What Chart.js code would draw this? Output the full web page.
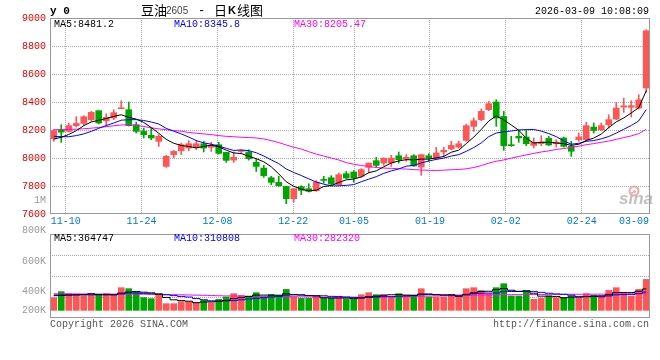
<!DOCTYPE html>
<html>
<head>
<meta charset="utf-8">
<title>豆油2605 - 日K线图</title>
<script src="https://cdn.jsdelivr.net/npm/chart.js@4.4.1/dist/chart.umd.min.js"></script>
<style>
    html, body { margin: 0; padding: 0; background: #fff; }
    #wrap { position: relative; width: 660px; height: 360px; }
    #wrap canvas { position: absolute; left: 0; top: 0; }
</style>
</head>
<body>
<div id="wrap">
    <canvas id="kline" width="660" height="360"></canvas>
    <canvas id="vol" width="660" height="360"></canvas>
</div>
<script>
"use strict";

// ===== DATA =====
const dates = ['11-06','11-07','11-10','11-11','11-12','11-13','11-14','11-17','11-18','11-19',
    '11-20','11-21','11-24','11-25','11-26','11-27','11-28','12-01','12-02','12-03',
    '12-04','12-05','12-08','12-09','12-10','12-11','12-12','12-15','12-16','12-17',
    '12-18','12-19','12-22','12-23','12-24','12-25','12-26','12-29','12-30','12-31',
    '01-05','01-06','01-07','01-08','01-09','01-12','01-13','01-14','01-15','01-16',
    '01-19','01-20','01-21','01-22','01-23','01-26','01-27','01-28','01-29','01-30',
    '02-02','02-03','02-04','02-05','02-06','02-09','02-10','02-11','02-12','02-13',
    '02-24','02-25','02-26','02-27','03-02','03-03','03-04','03-05','03-06','03-09'];

const openP = [8138, 8202, 8190, 8231, 8247, 8274, 8338, 8266, 8286, 8352,
    8345, 8238, 8190, 8162, 8119, 7940, 8024, 8052, 8071, 8078,
    8102, 8076, 8095, 8040, 7985, 8047, 8043, 7969, 7928, 7859,
    7826, 7797, 7709, 7795, 7781, 7766, 7845, 7859, 7809, 7888,
    7900, 7869, 7933, 7981, 7964, 7964, 8016, 7993, 8016, 7935,
    8016, 7995, 8043, 8064, 8078, 8126, 8226, 8274, 8345, 8400,
    8297, 8095, 8155, 8150, 8090, 8102, 8140, 8102, 8143, 8083,
    8131, 8131, 8221, 8202, 8238, 8278, 8364, 8362, 8357, 8500];

const highP = [8202, 8238, 8250, 8295, 8302, 8333, 8338, 8316, 8345, 8409,
    8400, 8257, 8214, 8214, 8166, 8019, 8054, 8107, 8124, 8126,
    8119, 8112, 8112, 8040, 8043, 8059, 8059, 7993, 7947, 7869,
    7869, 7797, 7781, 7802, 7816, 7838, 7869, 7874, 7893, 7904,
    7909, 7924, 7964, 8005, 8000, 8019, 8043, 8024, 8024, 8024,
    8031, 8076, 8076, 8119, 8119, 8243, 8286, 8350, 8404, 8416,
    8333, 8155, 8197, 8202, 8143, 8159, 8155, 8131, 8150, 8119,
    8178, 8255, 8250, 8250, 8309, 8397, 8428, 8409, 8452, 8916];

const lowP = [8119, 8112, 8185, 8221, 8233, 8262, 8243, 8226, 8274, 8352,
    8228, 8178, 8143, 8131, 8083, 7933, 8000, 8024, 8052, 8059,
    8043, 8047, 8028, 7969, 7969, 8033, 7985, 7904, 7862, 7809,
    7797, 7674, 7686, 7738, 7757, 7762, 7821, 7809, 7804, 7852,
    7828, 7862, 7893, 7933, 7947, 7940, 7964, 7976, 7940, 7876,
    7976, 7988, 8012, 8059, 8071, 8119, 8190, 8266, 8338, 8226,
    8055, 8083, 8112, 8088, 8071, 8088, 8088, 8078, 8078, 8012,
    8119, 8124, 8178, 8197, 8214, 8274, 8326, 8293, 8350, 8469];

const closeP = [8195, 8185, 8231, 8247, 8295, 8326, 8250, 8290, 8324, 8357,
    8231, 8190, 8166, 8143, 8155, 8012, 8047, 8095, 8102, 8102,
    8071, 8090, 8033, 7983, 8005, 8050, 7995, 7940, 7874, 7826,
    7802, 7709, 7781, 7769, 7762, 7828, 7840, 7814, 7881, 7857,
    7857, 7917, 7964, 7947, 7999, 7999, 7988, 8005, 7943, 8024,
    7999, 8036, 8055, 8090, 8102, 8231, 8266, 8333, 8388, 8285,
    8088, 8088, 8143, 8102, 8112, 8114, 8093, 8114, 8083, 8048,
    8150, 8231, 8197, 8231, 8274, 8357, 8373, 8374, 8416, 8909];

const ma5 = [8135, 8148, 8168, 8195, 8231, 8257, 8270, 8282, 8297, 8309,
    8290, 8278, 8254, 8217, 8177, 8133, 8105, 8090, 8082, 8072,
    8083, 8092, 8080, 8056, 8036, 8032, 8013, 7995, 7973, 7937,
    7887, 7830, 7798, 7777, 7765, 7770, 7796, 7803, 7825, 7844,
    7850, 7865, 7895, 7908, 7937, 7965, 7979, 7988, 7987, 7992,
    7992, 8001, 8011, 8041, 8056, 8103, 8149, 8204, 8264, 8301,
    8272, 8236, 8198, 8141, 8107, 8112, 8113, 8107, 8103, 8090,
    8098, 8125, 8142, 8171, 8217, 8258, 8286, 8322, 8359, 8481.2];

const ma10 = [8155, 8152, 8152, 8160, 8172, 8190, 8212, 8232, 8250, 8270,
    8273.5, 8274, 8268, 8257, 8243, 8211.5, 8191.5, 8172, 8149.5, 8124.5,
    8108, 8098.5, 8085, 8069, 8054, 8057.5, 8052.5, 8037.5, 8014.5, 7986.5,
    7959.5, 7921.5, 7896.5, 7875, 7851, 7828.5, 7813, 7800.5, 7801, 7804.5,
    7810, 7830.5, 7849, 7866.5, 7890.5, 7907.5, 7922, 7941.5, 7947.5, 7964.5,
    7978.5, 7990, 7999.5, 8014, 8024, 8047.5, 8075, 8107.5, 8152.5, 8178.5,
    8187.5, 8192.5, 8201, 8202.5, 8204, 8192, 8174.5, 8152.5, 8122, 8098.5,
    8105, 8119, 8124.5, 8137, 8153.5, 8178, 8205.5, 8232, 8265, 8345.8];

const ma30 = [8202, 8203, 8204, 8206, 8209, 8213, 8218, 8224, 8230, 8236,
    8237, 8233, 8225, 8216, 8208, 8202, 8196, 8191, 8182, 8177,
    8172, 8167, 8160, 8155, 8152, 8148, 8146, 8143, 8136, 8124,
    8110, 8093, 8077, 8064, 8045, 8028, 8014, 8000, 7986, 7967,
    7955, 7947, 7939, 7932, 7928, 7926, 7923, 7921, 7917, 7914,
    7912, 7911, 7913, 7916, 7918, 7923, 7932, 7946, 7963, 7977,
    7986, 7999, 8011, 8022, 8033, 8043, 8051, 8061, 8068, 8075,
    8084, 8095, 8103, 8112, 8121, 8133, 8146, 8158, 8174, 8205.47];

const volume = [216000, 318000, 284000, 272000, 245000, 284000, 255000, 284000, 255000, 386000,
    369000, 318000, 216000, 199000, 255000, 114000, 114000, 148000, 148000, 131000,
    170000, 131000, 187000, 228000, 284000, 255000, 233000, 301000, 228000, 272000,
    255000, 357000, 228000, 204000, 204000, 228000, 204000, 204000, 216000, 187000,
    187000, 267000, 301000, 267000, 267000, 228000, 284000, 255000, 255000, 369000,
    228000, 228000, 228000, 267000, 245000, 369000, 386000, 340000, 284000, 386000,
    454000, 245000, 245000, 330000, 187000, 204000, 245000, 216000, 216000, 245000,
    204000, 284000, 255000, 245000, 340000, 386000, 301000, 245000, 357000, 527000];

const volMa5 = [250000, 255000, 260000, 265000, 267000, 281000, 268000, 268000, 265000, 293000,
    310000, 322000, 309000, 298000, 271000, 220000, 180000, 166000, 156000, 131000,
    142000, 146000, 153000, 169000, 200000, 217000, 237000, 260000, 260000, 258000,
    258000, 283000, 268000, 263000, 250000, 244000, 214000, 209000, 211000, 208000,
    200000, 212000, 232000, 242000, 258000, 266000, 269000, 260000, 258000, 278000,
    278000, 267000, 262000, 264000, 239000, 267000, 299000, 321000, 325000, 353000,
    370000, 342000, 323000, 332000, 292000, 242000, 242000, 236000, 214000, 225000,
    225000, 233000, 241000, 247000, 266000, 302000, 305000, 303000, 326000, 364747];

const volMa10 = [262000, 262000, 263000, 263000, 264000, 264000, 265000, 265000, 266000, 280000,
    295500, 295000, 288500, 281500, 282000, 265000, 251000, 237500, 227000, 201000,
    181000, 163000, 159500, 162500, 165500, 179500, 191500, 206500, 214500, 229000,
    237500, 260000, 264000, 261500, 254000, 251000, 248500, 238500, 237000, 229000,
    222000, 213000, 220500, 226500, 233000, 233000, 240500, 246000, 250000, 268000,
    272000, 268000, 261000, 261000, 258500, 272500, 283000, 291500, 294500, 296000,
    318500, 320500, 322000, 328500, 322500, 306000, 292000, 279500, 273000, 258500,
    233500, 237500, 238500, 230500, 245500, 263500, 269000, 272000, 286500, 310808];

const volMa30 = [282000, 281000, 280000, 280000, 279000, 279000, 278000, 278000, 277000, 277000,
    276000, 276000, 275000, 274000, 273000, 271000, 268000, 265000, 262000, 259000,
    256000, 252000, 249000, 246000, 244000, 242000, 240000, 239000, 238000, 237000,
    235000, 234000, 232000, 230000, 228000, 226000, 224000, 222000, 221000, 220000,
    221000, 223000, 225000, 228000, 231000, 234000, 237000, 239000, 241000, 242000,
    244000, 246000, 248000, 250000, 252000, 255000, 258000, 260000, 262000, 264000,
    266000, 267000, 268000, 270000, 271000, 271000, 272000, 273000, 273000, 274000,
    274000, 275000, 275000, 276000, 277000, 278000, 279000, 280000, 281000, 282320];

const dateTicks = ['11-10', '11-24', '12-08', '12-22', '01-05', '01-19', '02-02', '02-24', '03-09'];
const volTickLabels = ['1M', '800K', '600K', '400K', '200K'];

// ===== STYLE =====
const RED = '#ff5555';
const GREEN = '#00a600';
const GRID = '#a8a8a8';
const MONO = '"Liberation Mono", "DejaVu Sans Mono", monospace';
const CJK = '"Noto Sans CJK SC", sans-serif';

const candleColors = closeP.map((c, i) => c >= openP[i] ? RED : GREEN);

Chart.defaults.font.family = MONO;
Chart.defaults.font.size = 10;
Chart.defaults.animation = false;
Chart.defaults.plugins.legend.display = false;
Chart.defaults.plugins.tooltip.enabled = false;

// sina lays its date grid a little wider than the candle pitch
function dateTickValue(d) {
    const v = dates.indexOf(d) * 1.0118 - 0.43;
    return Math.min(v, dates.length - 2.63); // keep the last label inside the frame
}

function setDateTicks(scale) {
    scale.ticks = dateTicks.map(d => ({ value: dateTickValue(d) }));
}

function gridColor(ctx) {
    return ctx.index === dateTicks.length - 1 ? 'transparent' : GRID;
}

function maLine(data, color, stepped) {
    return {
        type: 'line', data, borderColor: color, borderWidth: 1,
        pointRadius: 0, fill: false, tension: 0, stepped: stepped || false, order: 0
    };
}

function text(ctx, s, x, y, color, font, align) {
    ctx.fillStyle = color;
    ctx.font = font;
    ctx.textAlign = align || 'left';
    ctx.textBaseline = 'middle';
    ctx.fillText(s, x, y);
}

function drawFrame(chart) {
    const { ctx, chartArea: a } = chart;
    ctx.save();
    ctx.strokeStyle = '#999';
    ctx.lineWidth = 1;
    ctx.strokeRect(Math.round(a.left) + 0.5, Math.round(a.top) + 0.5,
        Math.round(a.width) - 1, Math.round(a.height) - 1);
    ctx.restore();
}

const last = arr => arr[arr.length - 1];

// ===== PRICE PANEL =====
const klineDecor = {
    id: 'klineDecor',
    beforeDatasetsDraw(chart) {
        // sina watermark
        const ctx = chart.ctx;
        ctx.save();
        ctx.strokeStyle = 'rgba(235,160,160,0.9)';
        ctx.lineWidth = 2;
        ctx.beginPath();
        ctx.arc(634, 191, 4.5, 0, Math.PI * 2);
        ctx.stroke();
        ctx.fillStyle = 'rgba(235,160,160,0.9)';
        ctx.beginPath();
        ctx.arc(634.5, 191.5, 1.5, 0, Math.PI * 2);
        ctx.fill();
        text(ctx, 'sina', 619, 199, 'rgba(185,185,185,0.9)', 'italic bold 17px "Liberation Sans", sans-serif');
        ctx.restore();
    },
    afterDatasetsDraw(chart) {
        drawFrame(chart);
    },
    afterDraw(chart) {
        const ctx = chart.ctx;
        ctx.save();
        text(ctx, 'y 0', 50, 11, '#000', 'bold 11px ' + MONO);
        text(ctx, '豆油', 141, 10.5, '#000', '13px ' + CJK);
        text(ctx, '2605', 166, 11, '#444', '10px "Liberation Sans", sans-serif');
        text(ctx, '-', 198, 10.5, '#000', '12px ' + MONO);
        text(ctx, '日', 214, 10.5, '#000', '13px ' + CJK);
        text(ctx, 'K', 228, 11, '#000', 'bold 11px "Liberation Sans", sans-serif');
        text(ctx, '线图', 237, 10.5, '#000', '13px ' + CJK);
        text(ctx, '2026-03-09 10:08:09', 649, 11.5, '#000', '10px ' + MONO, 'right');
        text(ctx, 'MA5:' + last(ma5), 54, 24, '#000', '10px ' + MONO);
        text(ctx, 'MA10:' + last(ma10), 174, 24, '#0000ff', '10px ' + MONO);
        text(ctx, 'MA30:' + last(ma30), 294, 24, '#ff00ff', '10px ' + MONO);
        ctx.restore();
    }
};

new Chart(document.getElementById('kline'), {
    type: 'bar',
    data: {
        labels: dates,
        datasets: [
            maLine(ma5, '#000000'),
            maLine(ma10, '#0000ff'),
            maLine(ma30, '#ff00ff'),
            {
                type: 'bar', data: dates.map((d, i) => [openP[i], closeP[i]]),
                backgroundColor: candleColors, barThickness: 6, minBarLength: 1,
                grouped: false, borderWidth: 0, order: 1
            },
            {
                type: 'bar', data: dates.map((d, i) => [lowP[i], highP[i]]),
                backgroundColor: candleColors, barThickness: 1,
                grouped: false, borderWidth: 0, order: 2
            }
        ]
    },
    options: {
        responsive: false,
        devicePixelRatio: 1,
        layout: { padding: { top: 18, right: 10, bottom: 126, left: 0 } },
        scales: {
            x: {
                type: 'category', offset: true,
                grid: { offset: false, color: gridColor, drawTicks: false },
                border: { display: false, dash: [1, 1] },
                ticks: {
                    color: '#0078d0', padding: 1, autoSkip: false, maxRotation: 0,
                    callback: (v, i) => dateTicks[i]
                },
                afterBuildTicks: setDateTicks,
                afterFit: s => { s.height = 20; }
            },
            y: {
                min: 7600, max: 9000,
                grid: {
                    drawTicks: false,
                    color: ctx => (ctx.tick.value === 7600 || ctx.tick.value === 9000) ? 'transparent' : GRID
                },
                border: { display: false, dash: [1, 1] },
                ticks: { stepSize: 200, color: '#e60000', padding: 4, callback: v => String(v) },
                afterFit: s => { s.width = 50; }
            }
        }
    },
    plugins: [klineDecor]
});

// ===== VOLUME PANEL =====
const volDecor = {
    id: 'volDecor',
    afterDatasetsDraw(chart) {
        drawFrame(chart);
    },
    afterDraw(chart) {
        const ctx = chart.ctx;
        ctx.save();
        text(ctx, 'MA5:' + last(volMa5), 54, 238.5, '#000', '10px ' + MONO);
        text(ctx, 'MA10:' + last(volMa10), 174, 238.5, '#0000ff', '10px ' + MONO);
        text(ctx, 'MA30:' + last(volMa30), 294, 238.5, '#ff00ff', '10px ' + MONO);
        // sina stacks its volume labels at a fixed pitch, not on the bar scale
        const labelY = [200.5, 230.5, 261, 291, 310.5];
        volTickLabels.forEach((s, i) => text(ctx, s, 46, labelY[i], '#999', '10px ' + MONO, 'right'));
        text(ctx, 'Copyright 2026 SINA.COM', 50, 324, '#555', '10px ' + MONO);
        text(ctx, 'http://finance.sina.com.cn', 649, 324, '#555', '10px ' + MONO, 'right');
        ctx.restore();
    }
};

new Chart(document.getElementById('vol'), {
    type: 'bar',
    data: {
        labels: dates,
        datasets: [
            maLine(volMa5, '#000000', 'middle'),
            maLine(volMa10, '#0000ff', 'middle'),
            maLine(volMa30, '#ff00ff', 'middle'),
            {
                type: 'bar', data: volume, backgroundColor: candleColors,
                barThickness: 6, grouped: false, borderWidth: 0, order: 1
            }
        ]
    },
    options: {
        responsive: false,
        devicePixelRatio: 1,
        layout: { padding: { top: 234, right: 10, bottom: 42, left: 0 } },
        scales: {
            x: {
                type: 'category', offset: true,
                grid: { offset: false, color: gridColor, drawTicks: false },
                border: { display: false, dash: [1, 1] },
                ticks: { display: false, autoSkip: false },
                afterBuildTicks: setDateTicks,
                afterFit: s => { s.height = 0; }
            },
            y: {
                min: -130000, max: 1300000,
                grid: { drawTicks: false, color: GRID },
                border: { display: false, dash: [1, 1] },
                ticks: { display: false },
                afterBuildTicks: s => {
                    s.ticks = [1, 2, 3].map(k => ({ value: s.min + (s.max - s.min) * k / 4 }));
                },
                afterFit: s => { s.width = 50; }
            }
        }
    },
    plugins: [volDecor]
});
</script>
</body>
</html>
